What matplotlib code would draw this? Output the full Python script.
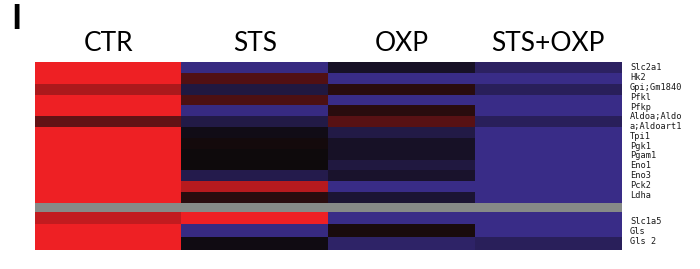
import numpy as np
import matplotlib
matplotlib.use("Agg")
import matplotlib.pyplot as plt
from matplotlib.colors import LinearSegmentedColormap

groups = ["CTR", "STS", "OXP", "STS+OXP"]

# glycolysis genes (top block)
top_labels = ["Slc2a1", "Hk2", "Gpi;Gm1840", "Pfkl", "Pfkp", "Aldoa;Aldo",
              "a;Aldoart1", "Tpi1", "Pgk1", "Pgam1", "Eno1", "Eno3", "Pck2", "Ldha"]
top_vals = np.array([
    [1.00, -0.90, -0.20, -0.65],   # Slc2a1
    [1.00,  0.30, -0.95, -0.95],   # Hk2
    [0.70, -0.40,  0.12, -0.60],   # Gpi
    [1.00,  0.28, -0.95, -0.95],   # Pfkl
    [1.00, -0.90,  0.12, -0.95],   # Pfkp
    [0.38, -0.45,  0.33, -0.60],   # Aldoa
    [1.00, -0.08, -0.45, -0.95],   # Tpi1
    [1.00,  0.03, -0.20, -0.95],   # Pgk1
    [1.00,  0.00, -0.20, -0.95],   # Pgam1
    [1.00,  0.00, -0.40, -0.95],   # Eno1
    [1.00, -0.50, -0.25, -0.95],   # Eno3
    [1.00,  0.75, -0.95, -0.95],   # Pck2
    [1.00,  0.12, -0.30, -0.95],   # Ldha
])

# glutaminolysis genes (bottom block)
bot_labels = ["Slc1a5", "Gls", "Gls 2"]
bot_vals = np.array([
    [0.80,  1.00, -0.95, -0.95],
    [1.00, -0.90,  0.05, -0.95],
    [1.00, -0.05, -0.70, -0.60],
])

cmap = LinearSegmentedColormap.from_list(
    "bkr", [(60/255, 46/255, 142/255), (14/255, 10/255, 12/255), (238/255, 32/255, 36/255)])

W, H = 700, 269
fig = plt.figure(figsize=(7, 2.69), dpi=100)

def fx(px):
    return px / W

def fy(py):
    return 1 - py / H

left, right = 35, 621
ax_top = fig.add_axes([fx(left), fy(203), fx(right - left), (203 - 62) / H])
ax_top.imshow(top_vals, cmap=cmap, vmin=-1, vmax=1, aspect="auto", interpolation="nearest")
ax_top.set_axis_off()

ax_gray = fig.add_axes([fx(left), fy(212), fx(right + 1 - left), 9 / H])
ax_gray.set_facecolor("#868a87")
ax_gray.set_xticks([])
ax_gray.set_yticks([])
for s in ax_gray.spines.values():
    s.set_visible(False)

ax_bot = fig.add_axes([fx(left), fy(250), fx(right - left), (250 - 212) / H])
ax_bot.imshow(bot_vals, cmap=cmap, vmin=-1, vmax=1, aspect="auto", interpolation="nearest")
ax_bot.set_axis_off()

# column headers
for i, g in enumerate(groups):
    cx = left + (right - left) * (i + 0.5) / len(groups)
    fig.text(fx(cx), fy(51), g, ha="center", va="baseline", fontsize=19,
             family=["Lato", "DejaVu Sans"])

# row labels
mono = dict(family="DejaVu Sans Mono", fontsize=6.2, va="center", ha="left", color="#1a1a1a")
for i, lab in enumerate(top_labels):
    y = 68 + i * (195 - 68) / (len(top_labels) - 1)
    fig.text(fx(630), fy(y), lab, **mono)
for i, lab in enumerate(bot_labels):
    y = 221 + i * 10.5
    fig.text(fx(630), fy(y), lab, **mono)

# panel letter
fig.text(fx(11), fy(3), "I", fontsize=25, va="top", ha="left", weight="bold",
         family=["Lato", "DejaVu Sans"])

fig.savefig("out.png", dpi=100)
